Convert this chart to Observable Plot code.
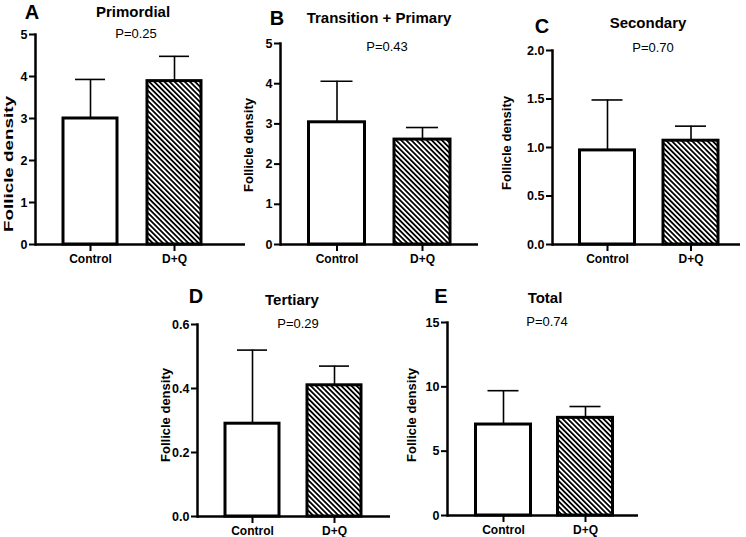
<!DOCTYPE html>
<html>
<head>
<meta charset="utf-8">
<script src="https://cdn.jsdelivr.net/npm/d3@7"></script>
<script src="https://cdn.jsdelivr.net/npm/@observablehq/plot@0.6"></script>
<style>
  html, body { margin: 0; padding: 0; background: #fff; }
  #chart { position: relative; width: 746px; height: 537px; overflow: hidden; background: #fff;
           font-family: "Liberation Sans", Arial, Helvetica, sans-serif; color: #000; }
  #chart svg { position: absolute; left: 0; top: 0; }
  #chart svg text { font-weight: bold; fill: #000; }
  #chart svg g[aria-label="y-axis tick label"] { font-size: 12.5px; }
  #chart svg g[aria-label="x-axis tick label"] { font-size: 12px; }
  .lbl { position: absolute; white-space: nowrap; transform: translate(-50%, -50%); line-height: 1.1; }
</style>
</head>
<body>
<div id="chart"></div>
<script>
// ---- data ----
const groups = ["Control", "D+Q"];
const letters = ["A", "B", "C", "D", "E"];
const titles = ["Primordial", "Transition + Primary", "Secondary", "Tertiary", "Total"];
const pLabels = ["P=0.25", "P=0.43", "P=0.70", "P=0.29", "P=0.74"];
const yLabel = "Follicle density";
const controlMean  = [3.00, 3.04, 0.97, 0.29, 7.07];
const controlUpper = [3.93, 4.06, 1.49, 0.52, 9.70];
const dqMean  = [3.89, 2.61, 1.07, 0.41, 7.59];
const dqUpper = [4.48, 2.91, 1.22, 0.47, 8.47];
const yDomainMax = [5, 5, 2, 0.6, 15];
const yTickValues = [[0,1,2,3,4,5], [0,1,2,3,4,5], [0,0.5,1,1.5,2], [0,0.2,0.4,0.6], [0,5,10,15]];
const yTickFormats = ["d", "d", ".1f", ".1f", "d"];

// ---- layout (pixel positions in the 746x537 canvas) ----
const W = 746, H = 537;
const layout = [
  {axisX: 35,  top: 34,  bottom: 244, right: 245, c1: 90,    c2: 174,   bw: 54, letter: [32, 12],  title: [133, 12], p: [136, 34], ylab: [9, 164], ylabScale: 1.45},
  {axisX: 280, top: 43,  bottom: 244, right: 478, c1: 336.5, c2: 422,   bw: 56, letter: [277, 18], title: [379, 18], p: [387, 47], ylab: [249, 145], ylabScale: 1},
  {axisX: 552, top: 50,  bottom: 244, right: 740, c1: 607,   c2: 690.5, bw: 55, letter: [542, 26], title: [648, 23], p: [653, 48], ylab: [507, 143], ylabScale: 1},
  {axisX: 197, top: 324, bottom: 516, right: 390, c1: 252,   c2: 334,   bw: 54, letter: [196, 296], title: [292, 300], p: [298, 324], ylab: [166, 415], ylabScale: 1},
  {axisX: 447, top: 322, bottom: 515, right: 638, c1: 503,   c2: 585,   bw: 55, letter: [441, 296], title: [545, 298], p: [547, 322], ylab: [412, 415], ylabScale: 1}
];

const chart = document.getElementById("chart");

function addLabel(text, [x, y], style, rotateScale) {
  const d = document.createElement("div");
  d.className = "lbl";
  d.textContent = text;
  d.style.left = x + "px";
  d.style.top = y + "px";
  Object.assign(d.style, style);
  if (rotateScale) d.style.transform = `translate(-50%, -50%) rotate(-90deg) scaleX(${rotateScale})`;
  chart.appendChild(d);
}

layout.forEach((L, i) => {
  const rows = groups.map((g, j) => ({
    group: g,
    mean: j === 0 ? controlMean[i] : dqMean[i],
    upper: j === 0 ? controlUpper[i] : dqUpper[i]
  }));
  const step = L.c2 - L.c1;
  const hatchId = "hatch" + i;
  const svg = Plot.plot({
    width: W, height: H,
    marginLeft: L.axisX, marginRight: W - L.right,
    marginTop: L.top, marginBottom: H - L.bottom,
    style: {background: "transparent", fontFamily: "'Liberation Sans', Arial, Helvetica, sans-serif", color: "#000", overflow: "visible"},
    x: {domain: groups, range: [L.c1 - L.bw / 2, L.c2 + L.bw / 2], paddingInner: 1 - L.bw / step, paddingOuter: 0, round: false, label: null},
    y: {domain: [0, yDomainMax[i]], label: null},
    color: {type: "identity"},
    marks: [
      Plot.ruleX(rows, {x: "group", y1: "mean", y2: "upper", stroke: "#000", strokeWidth: 1.6}),
      Plot.tickY(rows, {x: "group", y: "upper", stroke: "#000", strokeWidth: 1.6, insetLeft: 12, insetRight: 12}),
      Plot.barY(rows, {x: "group", y: "mean", fill: d => d.group === groups[0] ? "#fff" : `url(#${hatchId})`, stroke: "#000", strokeWidth: 3}),
      Plot.ruleY([0], {stroke: "#000", strokeWidth: 2.5}),
      Plot.frame({anchor: "left", stroke: "#000", strokeWidth: 2.5}),
      Plot.axisY(yTickValues[i], {tickFormat: d3.format(yTickFormats[i]), tickSize: 6, tickPadding: 2, fontSize: 12.5, fontWeight: "bold", stroke: "#000", strokeWidth: 2, label: null}),
      Plot.axisX({tickSize: 7, tickPadding: 3, fontSize: 12, fontWeight: "bold", stroke: "#000", strokeWidth: 2, label: null})
    ]
  });
  const defs = d3.select(svg).insert("defs", ":first-child");
  const pat = defs.append("pattern")
    .attr("id", hatchId)
    .attr("patternUnits", "userSpaceOnUse")
    .attr("width", 3.6).attr("height", 10)
    .attr("patternTransform", "rotate(-45)");
  pat.append("rect").attr("width", 3.6).attr("height", 10).attr("fill", "#fff");
  pat.append("rect").attr("width", 1.8).attr("height", 10).attr("fill", "#000");
  chart.appendChild(svg);

  addLabel(letters[i], L.letter, {fontSize: "20px", fontWeight: "bold", lineHeight: "1"});
  addLabel(titles[i], L.title, {fontSize: "15px", fontWeight: "bold"});
  addLabel(pLabels[i], L.p, {fontSize: "13px"});
  addLabel(yLabel, L.ylab, {fontSize: "13px", fontWeight: "bold"}, L.ylabScale);
});
</script>
</body>
</html>
